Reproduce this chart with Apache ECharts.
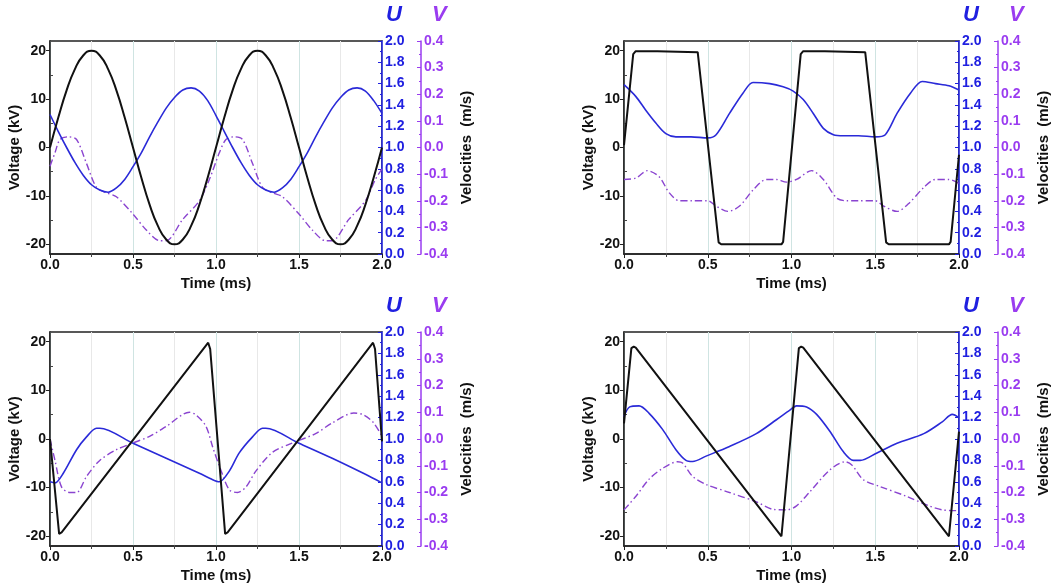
<!DOCTYPE html>
<html><head><meta charset="utf-8">
<script src="https://cdn.jsdelivr.net/npm/echarts@6/dist/echarts.min.js"></script>
<style>html,body{margin:0;background:#fff}#c{width:1064px;height:587px}</style>
</head><body><div id="c"></div>
<script>
// ---------- Panel 1 (sine) ----------
const p1VoltT = [0,0.05,0.1,0.15,0.2,0.25,0.3,0.35,0.4,0.45,0.5,0.55,0.6,0.65,0.7,0.75,0.8,0.85,0.9,0.95,1.0,1.05,1.1,1.15,1.2,1.25,1.3,1.35,1.4,1.45,1.5,1.55,1.6,1.65,1.7,1.75,1.8,1.85,1.9,1.95,2.0];
const p1Volt = [0,6.2,11.8,16.2,19.0,20,19.0,16.2,11.8,6.2,0,-6.2,-11.8,-16.2,-19.0,-20,-19.0,-16.2,-11.8,-6.2,0,6.2,11.8,16.2,19.0,20,19.0,16.2,11.8,6.2,0,-6.2,-11.8,-16.2,-19.0,-20,-19.0,-16.2,-11.8,-6.2,0];
const p1UT = [0,0.05,0.1,0.15,0.2,0.25,0.3,0.35,0.4,0.45,0.5,0.55,0.6,0.65,0.7,0.75,0.8,0.85,0.9,0.95,1.0,1.05,1.1,1.15,1.2,1.25,1.3,1.35,1.4,1.45,1.5,1.55,1.6,1.65,1.7,1.75,1.8,1.85,1.9,1.95,2.0];
const p1U = [1.31,1.15,1.0,0.86,0.74,0.65,0.6,0.58,0.62,0.7,0.82,0.95,1.1,1.24,1.37,1.47,1.54,1.56,1.53,1.44,1.30,1.15,1.0,0.86,0.74,0.65,0.6,0.58,0.62,0.7,0.82,0.95,1.1,1.24,1.37,1.47,1.54,1.56,1.53,1.44,1.32];
const p1VT = [0,0.03,0.06,0.11,0.16,0.22,0.28,0.34,0.40,0.50,0.58,0.66,0.70,0.80,0.90,0.96,1.02,1.06,1.11,1.16,1.22,1.28,1.34,1.40,1.50,1.58,1.66,1.70,1.80,1.90,1.96,2.0];
const p1V = [-0.07,-0.02,0.03,0.04,0.03,-0.06,-0.15,-0.17,-0.185,-0.25,-0.31,-0.35,-0.35,-0.27,-0.2,-0.12,-0.02,0.03,0.04,0.03,-0.06,-0.15,-0.17,-0.185,-0.25,-0.31,-0.35,-0.35,-0.27,-0.2,-0.12,-0.08];

// ---------- Panel 2 (square) ----------
const p2VoltT = [0,0.055,0.07,0.2,0.44,0.45,0.565,0.58,0.94,0.95,1.055,1.07,1.2,1.44,1.45,1.565,1.58,1.94,1.95,2.0];
const p2Volt = [0.5,19.3,19.9,19.9,19.7,19.3,-19.6,-20,-20,-19.5,19.3,19.9,19.9,19.7,19.3,-19.6,-20,-20,-19.5,-1.5];
const p2UT = [0,0.07,0.13,0.19,0.25,0.31,0.4,0.5,0.55,0.63,0.71,0.77,0.87,0.95,1.01,1.07,1.13,1.19,1.25,1.31,1.4,1.5,1.56,1.63,1.71,1.78,1.86,1.94,2.0];
const p2U = [1.59,1.48,1.35,1.23,1.13,1.1,1.1,1.09,1.12,1.32,1.51,1.61,1.6,1.57,1.53,1.45,1.32,1.18,1.12,1.11,1.11,1.1,1.12,1.32,1.51,1.62,1.6,1.58,1.54];
const p2VT = [0,0.07,0.14,0.21,0.27,0.33,0.4,0.5,0.55,0.62,0.69,0.77,0.85,0.91,0.97,1.03,1.12,1.19,1.27,1.33,1.4,1.5,1.55,1.63,1.7,1.79,1.86,1.94,2.0];
const p2V = [-0.12,-0.115,-0.087,-0.11,-0.17,-0.2,-0.2,-0.2,-0.22,-0.24,-0.22,-0.16,-0.12,-0.12,-0.13,-0.12,-0.087,-0.12,-0.19,-0.2,-0.2,-0.2,-0.22,-0.24,-0.21,-0.15,-0.12,-0.12,-0.135];

// ---------- Panel 3 (rising sawtooth) ----------
const p3VoltT = [0,0.055,0.07,0.953,0.965,1.055,1.07,1.946,1.958,2.0];
const p3Volt = [0,-19.5,-19.2,19.8,18.5,-19.5,-19.2,19.8,18.5,-0.5];
const p3UT = [0,0.03,0.08,0.16,0.22,0.28,0.3,0.5,0.7,0.9,0.98,1.02,1.08,1.14,1.22,1.28,1.3,1.5,1.7,1.9,2.0];
const p3U = [0.6,0.59,0.68,0.9,1.02,1.1,1.1,0.96,0.82,0.68,0.62,0.6,0.7,0.87,1.02,1.1,1.1,0.96,0.82,0.67,0.59];
const p3VT = [0,0.03,0.07,0.12,0.16,0.22,0.3,0.4,0.5,0.6,0.7,0.84,0.88,0.94,0.98,1.02,1.08,1.13,1.18,1.24,1.34,1.46,1.6,1.7,1.83,1.89,1.95,2.0];
const p3V = [0,-0.08,-0.18,-0.2,-0.2,-0.14,-0.08,-0.04,-0.015,0.01,0.047,0.1,0.09,0.047,-0.03,-0.1,-0.19,-0.2,-0.18,-0.12,-0.05,-0.015,0.02,0.06,0.097,0.09,0.06,0.01];

// ---------- Panel 4 (falling sawtooth) ----------
const p4VoltT = [0,0.044,0.058,0.07,0.94,1.044,1.058,1.07,1.94,2.0];
const p4Volt = [3.2,18.7,19,18.8,-20,18.7,19,18.8,-20,1.5];
const p4UT = [0,0.034,0.09,0.15,0.23,0.31,0.37,0.41,0.49,0.63,0.79,0.91,0.99,1.03,1.09,1.15,1.23,1.31,1.37,1.41,1.51,1.63,1.79,1.9,1.96,2.0];
const p4U = [1.21,1.3,1.31,1.24,1.09,0.9,0.8,0.79,0.84,0.93,1.05,1.18,1.27,1.31,1.3,1.23,1.07,0.88,0.8,0.8,0.87,0.96,1.05,1.16,1.23,1.2];
const p4VT = [0,0.07,0.15,0.23,0.32,0.35,0.41,0.49,0.63,0.79,0.89,0.97,1.03,1.11,1.23,1.32,1.36,1.43,1.53,1.69,1.82,1.9,2.0];
const p4V = [-0.265,-0.215,-0.15,-0.11,-0.085,-0.09,-0.14,-0.17,-0.2,-0.235,-0.263,-0.265,-0.25,-0.197,-0.115,-0.085,-0.097,-0.153,-0.178,-0.215,-0.25,-0.265,-0.268];

// Axis text
const xName = 'Time (ms)';
const voltName = 'Voltage (kV)';
const velName = 'Velocities  (m/s)';
const voltLabels = [-20,-10,0,10,20];
const voltMinor = [-15,-5,5,15];

const panels = [
  {vt:p1VoltT, v:p1Volt, ut:p1UT, u:p1U, wt:p1VT, w:p1V, smoothV:true},
  {vt:p2VoltT, v:p2Volt, ut:p2UT, u:p2U, wt:p2VT, w:p2V, smoothV:false},
  {vt:p3VoltT, v:p3Volt, ut:p3UT, u:p3U, wt:p3VT, w:p3V, smoothV:false},
  {vt:p4VoltT, v:p4Volt, ut:p4UT, u:p4U, wt:p4VT, w:p4V, smoothV:false}
];

const FONT = '"Liberation Sans", Arial, sans-serif';
const BLACK = '#111';
const BLUE = '#2020e0';
const PURPLE = '#9a3cf0';
const LBLUE = '#2a2ad8';
const LPURPLE = '#8a44d0';

const gridPos = [
  {left:50, top:41, width:332, height:213},
  {left:624, top:41, width:335, height:213},
  {left:50, top:332, width:332, height:214},
  {left:624, top:332, width:335, height:214}
];

const zip = (a,b) => a.map((x,i)=>[x,b[i]]);
const lbl = (c) => ({color:c, fontFamily:FONT, fontWeight:'bold', fontSize:14});

const grid = [], xAxis = [], yAxis = [], series = [], graphic = [];
gridPos.forEach((g, i) => {
  grid.push(Object.assign({show:true, borderColor:'#222', borderWidth:1.5, backgroundColor:'#fff'}, g));
  xAxis.push({
    type:'value', gridIndex:i, min:0, max:2, interval:0.5,
    name:xName, nameLocation:'middle', nameGap:22,
    nameTextStyle:{color:BLACK, fontFamily:FONT, fontWeight:'bold', fontSize:15},
    axisLine:{onZero:false, lineStyle:{color:'#222', width:1.5}},
    axisTick:{length:4, lineStyle:{color:'#222'}},
    minorTick:{show:true, splitNumber:2, length:3, lineStyle:{color:'#444'}},
    splitLine:{show:true, lineStyle:{color:'#cfe4e2', width:1}},
    minorSplitLine:{show:true, lineStyle:{color:'#e8e8e8', width:1}},
    axisLabel:Object.assign(lbl(BLACK), {formatter:v=>v.toFixed(1), margin:4})
  });
  const base = yAxis.length;
  yAxis.push({
    type:'value', gridIndex:i, position:'left', min:-22, max:22,
    name:voltName, nameLocation:'middle', nameGap:25,
    nameTextStyle:{color:BLACK, fontFamily:FONT, fontWeight:'bold', fontSize:15},
    axisLine:{show:true, onZero:false, lineStyle:{color:'#222', width:1.5}},
    axisTick:{show:true, length:4, customValues:voltLabels, lineStyle:{color:'#222'}},
    axisLabel:Object.assign(lbl(BLACK), {customValues:voltLabels, margin:4}),
    splitLine:{show:false}
  });
  yAxis.push({
    type:'value', gridIndex:i, position:'right', offset:0, min:0, max:2, interval:0.2,
    axisLine:{show:true, onZero:false, lineStyle:{color:BLUE, width:1.5}},
    axisTick:{show:true, inside:true, length:4, lineStyle:{color:BLUE}},
    minorTick:{show:true, splitNumber:2, length:2, lineStyle:{color:BLUE}},
    axisLabel:Object.assign(lbl(BLUE), {formatter:v=>v.toFixed(1), margin:3}),
    splitLine:{show:false}
  });
  yAxis.push({
    type:'value', gridIndex:i, position:'right', offset:39, min:-0.4, max:0.4, interval:0.1,
    name:velName, nameLocation:'middle', nameGap:38, nameRotate:90,
    nameTextStyle:{color:BLACK, fontFamily:FONT, fontWeight:'bold', fontSize:15},
    axisLine:{show:true, onZero:false, lineStyle:{color:PURPLE, width:1.5}},
    axisTick:{show:true, inside:true, length:4, lineStyle:{color:PURPLE}},
    minorTick:{show:true, splitNumber:2, length:2, lineStyle:{color:PURPLE}},
    axisLabel:Object.assign(lbl(PURPLE), {formatter:v=>v.toFixed(1), margin:3}),
    splitLine:{show:false}
  });
  yAxis.push({
    type:'value', gridIndex:i, position:'left', min:-22, max:22,
    axisLine:{show:false, onZero:false}, axisLabel:{show:false}, splitLine:{show:false},
    axisTick:{show:true, inside:true, length:3, customValues:voltMinor, lineStyle:{color:'#444'}}
  });
  const p = panels[i];
  series.push({
    type:'line', xAxisIndex:i, yAxisIndex:base+1, data:zip(p.ut,p.u), showSymbol:false,
    smooth:0.3, lineStyle:{color:LBLUE, width:1.6}, z:3
  });
  series.push({
    type:'line', xAxisIndex:i, yAxisIndex:base+2, data:zip(p.wt,p.w), showSymbol:false,
    smooth:0.3, lineStyle:{color:LPURPLE, width:1.4, type:[7,3,1.5,3]}, z:2
  });
  series.push({
    type:'line', xAxisIndex:i, yAxisIndex:base, data:zip(p.vt,p.v), showSymbol:false,
    smooth:p.smoothV ? 0.5 : false, lineStyle:{color:BLACK, width:2}, z:4
  });
  const ux = g.left + g.width + 11, vx = g.left + g.width + 57, ty = g.top - 26;
  graphic.push({type:'text', left:ux-7, top:ty-11, style:{text:'U', fill:BLUE, font:'italic bold 22px ' + FONT}});
  graphic.push({type:'text', left:vx-7, top:ty-11, style:{text:'V', fill:PURPLE, font:'italic bold 22px ' + FONT}});
});

const chart = echarts.init(document.getElementById('c'), null, {renderer:'canvas'});
chart.setOption({backgroundColor:'#fff', animation:false, grid, xAxis, yAxis, series, graphic});
</script></body></html>
